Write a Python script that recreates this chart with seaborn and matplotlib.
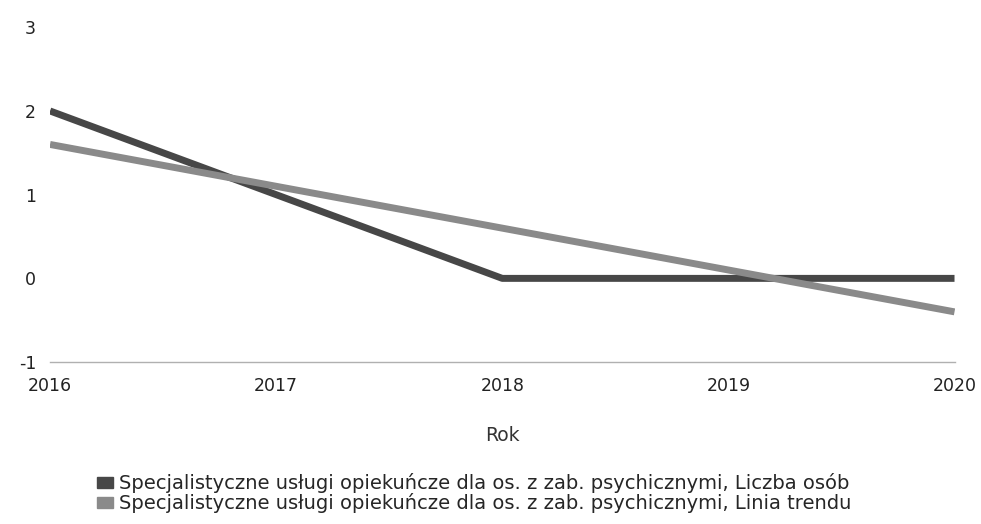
import pandas as pd
import matplotlib.pyplot as plt
import seaborn as sns
from matplotlib.patches import Patch

sns.set_style('white')
plt.rcParams['font.family'] = ['DejaVu Sans']
plt.rcParams['axes.unicode_minus'] = False

# data
years = [2016, 2017, 2018, 2019, 2020]
liczba_osob = [2, 1, 0, 0, 0]
linia_trendu = [1.6, 1.1, 0.6, 0.1, -0.4]
series_names = [
    'Specjalistyczne usługi opiekuńcze dla os. z zab. psychicznymi, Liczba osób',
    'Specjalistyczne usługi opiekuńcze dla os. z zab. psychicznymi, Linia trendu',
]
colors = ['#474747', '#8a8a8a']

df = pd.DataFrame({
    'Rok': years * 2,
    'value': liczba_osob + linia_trendu,
    'series': [series_names[0]] * len(years) + [series_names[1]] * len(years),
})

fig = plt.figure(figsize=(9.81, 5.24), dpi=100)
ax = fig.add_axes([0.051, 0.309, 0.922, 0.639])

sns.lineplot(data=df, x='Rok', y='value', hue='series', palette=colors,
             linewidth=5, legend=False, ax=ax, solid_capstyle='butt')

ax.set_xlim(2016, 2020)
ax.set_ylim(-1, 3)
ax.set_xticks(years)
ax.set_yticks([-1, 0, 1, 2, 3])
ax.tick_params(axis='both', labelsize=12.5, colors='#222222', length=0)
ax.tick_params(axis='y', pad=10)
ax.tick_params(axis='x', pad=11)
ax.set_ylabel('')
ax.set_xlabel('Rok', fontsize=13.5, color='#333333', labelpad=22)

for s in ['top', 'right', 'left']:
    ax.spines[s].set_visible(False)
ax.spines['bottom'].set_color('#b0b0b0')
ax.spines['bottom'].set_linewidth(1)

handles = [Patch(facecolor=c, edgecolor=c) for c in colors]
fig.legend(handles, series_names, loc='upper left', bbox_to_anchor=(0.089, 0.115),
           frameon=False, fontsize=14, handlelength=0.8, handleheight=0.5,
           handletextpad=0.35, labelspacing=0.0, borderpad=0)

fig.savefig('out.png', dpi=100)
